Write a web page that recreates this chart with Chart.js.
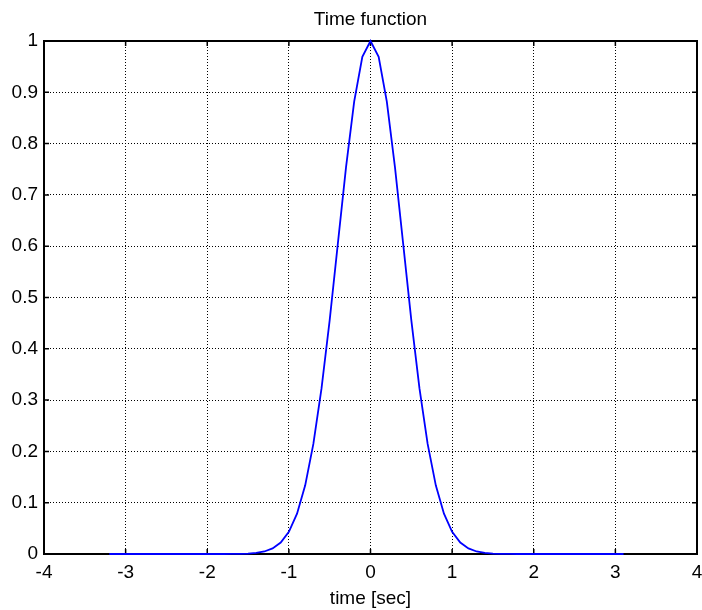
<!DOCTYPE html>
<html>
<head>
<meta charset="utf-8">
<title>Time function</title>
<script src="https://cdn.jsdelivr.net/npm/chart.js@4.4.1/dist/chart.umd.min.js"></script>
<style>
  html, body { margin: 0; padding: 0; background: #fff; }
  #wrap { width: 702px; height: 610px; }
</style>
</head>
<body>
<div id="wrap"><canvas id="chartCanvas" width="702" height="610"></canvas></div>
<script>
// sample times (sec) and signal values
const times = [
  -3.2, -3.1, -3.0, -2.9, -2.8, -2.7, -2.6, -2.5, -2.4, -2.3, -2.2, -2.1, -2.0, -1.9, -1.8,
  -1.7, -1.6, -1.5, -1.4, -1.3, -1.2, -1.1, -1.0, -0.9, -0.8, -0.7, -0.6, -0.5, -0.4, -0.3, -0.2, -0.1,
  0.0,
  0.1, 0.2, 0.3, 0.4, 0.5, 0.6, 0.7, 0.8, 0.9, 1.0, 1.1, 1.2, 1.3, 1.4, 1.5, 1.6, 1.7,
  1.8, 1.9, 2.0, 2.1, 2.2, 2.3, 2.4, 2.5, 2.6, 2.7, 2.8, 2.9, 3.0, 3.1
];
const values = [
  0, 0, 0, 0, 0, 0, 0, 0, 0, 0, 0, 0, 0, 0, 0,
  0.0001, 0.0003, 0.0009, 0.0021, 0.0049, 0.0109, 0.0223, 0.0432, 0.0785, 0.1339, 0.2145, 0.3227, 0.4559, 0.6049, 0.7537, 0.8819, 0.9691,
  1.0,
  0.9691, 0.8819, 0.7537, 0.6049, 0.4559, 0.3227, 0.2145, 0.1339, 0.0785, 0.0432, 0.0223, 0.0109, 0.0049, 0.0021, 0.0009, 0.0003, 0.0001,
  0, 0, 0, 0, 0, 0, 0, 0, 0, 0, 0, 0, 0, 0
];
const xTicks = [-4, -3, -2, -1, 0, 1, 2, 3, 4];
const yTicks = [0, 0.1, 0.2, 0.3, 0.4, 0.5, 0.6, 0.7, 0.8, 0.9, 1];
const yTickLabels = ["0", "0.1", "0.2", "0.3", "0.4", "0.5", "0.6", "0.7", "0.8", "0.9", "1"];

const FONT = "'Liberation Sans', Arial, Helvetica, sans-serif";
Chart.defaults.color = "#000";
Chart.defaults.font.family = FONT;
Chart.defaults.font.size = 19;

// box around the axes plus inward tick marks on all four sides,
// drawn under the curve so the flat tails stay visible on the bottom edge
const axesBox = {
  id: "axesBox",
  beforeDatasetsDraw(chart) {
    const { ctx, chartArea: a, scales } = chart;
    const len = 5;
    ctx.save();
    ctx.strokeStyle = "#000";
    ctx.lineWidth = 1.5;
    ctx.beginPath();
    xTicks.forEach(v => {
      const px = scales.x.getPixelForValue(v);
      ctx.moveTo(px, a.bottom); ctx.lineTo(px, a.bottom - len);
      ctx.moveTo(px, a.top); ctx.lineTo(px, a.top + len);
    });
    yTicks.forEach(v => {
      const py = scales.y.getPixelForValue(v);
      ctx.moveTo(a.left, py); ctx.lineTo(a.left + len, py);
      ctx.moveTo(a.right, py); ctx.lineTo(a.right - len, py);
    });
    ctx.stroke();
    ctx.lineWidth = 2;
    ctx.strokeRect(a.left, a.top, a.right - a.left, a.bottom - a.top);
    ctx.restore();
  }
};

const gridStyle = { color: "#000", lineWidth: 1, drawTicks: false };
const dotted = { display: false, dash: [1, 2] };

const ctx = document.getElementById("chartCanvas").getContext("2d");
new Chart(ctx, {
  type: "line",
  data: {
    datasets: [{
      data: times.map((t, i) => ({ x: t, y: values[i] })),
      borderColor: "#0000ff",
      borderWidth: 1.8,
      pointRadius: 0,
      tension: 0,
      fill: false,
      clip: 4
    }]
  },
  options: {
    responsive: false,
    animation: false,
    layout: { padding: 0 },
    plugins: {
      legend: { display: false },
      tooltip: { enabled: false },
      title: { display: false }
    },
    scales: {
      x: {
        type: "linear",
        min: -4,
        max: 4,
        afterBuildTicks: s => { s.ticks = xTicks.map(v => ({ value: v })); },
        afterFit: s => {
          s.height = 56;
          s.paddingLeft = 0;
          s.paddingRight = 5;
        },
        ticks: { padding: 7, maxRotation: 0, callback: v => String(v) },
        grid: gridStyle,
        border: dotted,
        title: { display: true, text: "time [sec]", padding: { top: 1, bottom: 0 } }
      },
      // top axis only carries the plot title, centred over the axes
      top: {
        type: "linear",
        position: "top",
        min: -4,
        max: 4,
        afterFit: s => {
          s.height = 41;
          s.paddingLeft = 0;
          s.paddingRight = 5;
        },
        ticks: { display: false },
        grid: { display: false, drawTicks: false },
        border: { display: false },
        title: { display: true, text: "Time function", padding: { top: 8, bottom: 0 } }
      },
      y: {
        type: "linear",
        min: 0,
        max: 1,
        afterBuildTicks: s => { s.ticks = yTicks.map(v => ({ value: v })); },
        afterFit: s => { s.width = 44; },
        ticks: { padding: 6, callback: v => yTickLabels[yTicks.indexOf(v)] },
        grid: gridStyle,
        border: dotted
      }
    }
  },
  plugins: [axesBox]
});
</script>
</body>
</html>
